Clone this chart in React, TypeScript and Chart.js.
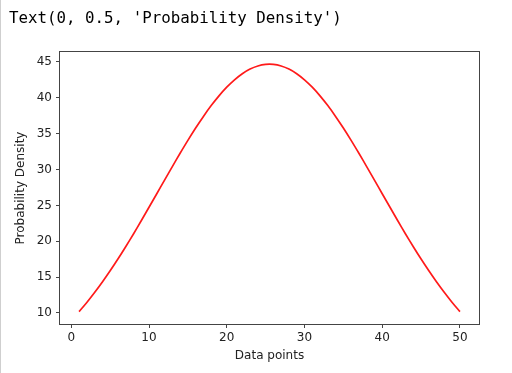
import React, { useEffect, useRef } from "react";
import { Chart, registerables } from "chart.js";

Chart.register(...registerables);

const X_VALUES = [
  1, 2, 3, 4, 5, 6, 7, 8, 9, 10, 11, 12, 13, 14, 15, 16, 17, 18, 19, 20, 21, 22, 23, 24, 25,
  26, 27, 28, 29, 30, 31, 32, 33, 34, 35, 36, 37, 38, 39, 40, 41, 42, 43, 44, 45, 46, 47, 48, 49, 50,
];
const DENSITY = [
  10.19, 11.47, 12.85, 14.32, 15.88, 17.52, 19.24, 21.02, 22.86, 24.74, 26.63, 28.53, 30.42,
  32.27, 34.07, 35.79, 37.41, 38.92, 40.28, 41.49, 42.52, 43.37, 44.02, 44.45, 44.67,
  44.67, 44.45, 44.02, 43.37, 42.52, 41.49, 40.28, 38.92, 37.41, 35.79, 34.07, 32.27, 30.42,
  28.53, 26.63, 24.74, 22.86, 21.02, 19.24, 17.52, 15.88, 14.32, 12.85, 11.47, 10.19,
];
const X_TICKS = [0, 10, 20, 30, 40, 50];
const Y_TICKS = [10, 15, 20, 25, 30, 35, 40, 45];
const HEADER = "Text(0, 0.5, 'Probability Density')";
const X_TITLE = "Data points";
const Y_TITLE = "Probability Density";

const FONT = "'DejaVu Sans', sans-serif";

const frame = {
  id: "frame",
  afterDraw(chart: any) {
    const { ctx, chartArea } = chart;
    ctx.save();
    ctx.strokeStyle = "#444";
    ctx.lineWidth = 1;
    ctx.strokeRect(
      Math.round(chartArea.left) - 0.5,
      Math.round(chartArea.top) - 0.5,
      Math.round(chartArea.right - chartArea.left) + 1,
      Math.round(chartArea.bottom - chartArea.top) + 1
    );
    ctx.restore();
  },
};

export default function App() {
  const ref = useRef<HTMLCanvasElement | null>(null);

  useEffect(() => {
    if (!ref.current) return;
    const xmin = Math.min(...X_VALUES);
    const xmax = Math.max(...X_VALUES);
    const ymin = Math.min(...DENSITY);
    const ymax = Math.max(...DENSITY);
    const xm = (xmax - xmin) * 0.05;
    const ym = (ymax - ymin) * 0.05;
    const chart = new Chart(ref.current, {
      type: "line",
      data: {
        datasets: [
          {
            data: X_VALUES.map((x, i) => ({ x, y: DENSITY[i] })),
            borderColor: "#ff1a1a",
            borderWidth: 1.7,
            pointRadius: 0,
            tension: 0.3,
            fill: false,
          },
        ],
      },
      options: {
        animation: false,
        responsive: false,
        layout: { padding: { top: 52, right: 33, left: 0, bottom: 0 } },
        plugins: { legend: { display: false }, tooltip: { enabled: false } },
        scales: {
          x: {
            type: "linear",
            min: xmin - xm,
            max: xmax + xm,
            afterBuildTicks: (axis: any) => {
              axis.ticks = X_TICKS.map((v) => ({ value: v }));
            },
            afterFit: (axis: any) => {
              axis.height = 49;
            },
            grid: {
              display: true,
              drawOnChartArea: false,
              drawTicks: true,
              tickLength: 4,
              color: "#444",
            },
            border: { display: false },
            ticks: {
              padding: 3,
              color: "#222",
              font: { family: FONT, size: 12 },
              maxRotation: 0,
            },
            title: {
              display: true,
              text: X_TITLE,
              color: "#222",
              font: { family: FONT, size: 12 },
              padding: { top: 0, bottom: 10 },
            },
          },
          y: {
            type: "linear",
            min: ymin - ym,
            max: ymax + ym,
            afterBuildTicks: (axis: any) => {
              axis.ticks = Y_TICKS.map((v) => ({ value: v }));
            },
            afterFit: (axis: any) => {
              axis.width = 60;
            },
            grid: {
              display: true,
              drawOnChartArea: false,
              drawTicks: true,
              tickLength: 4,
              color: "#444",
            },
            border: { display: false },
            ticks: {
              padding: 4,
              color: "#222",
              font: { family: FONT, size: 12 },
            },
            title: {
              display: true,
              text: Y_TITLE,
              color: "#222",
              font: { family: FONT, size: 12 },
              padding: { top: 14, bottom: 0 },
            },
          },
        },
      },
      plugins: [frame],
    } as any);
    return () => chart.destroy();
  }, []);

  return (
    <div
      style={{
        position: "fixed",
        left: 0,
        top: 0,
        width: 512,
        height: 373,
        background: "#fff",
        overflow: "hidden",
      }}
    >
      <canvas ref={ref} width={512} height={373} style={{ position: "absolute", left: 0, top: 0, display: "block" }} />
      <div
        style={{
          position: "absolute",
          left: 9,
          top: 8,
          fontFamily: "'DejaVu Sans Mono', monospace",
          fontSize: 15.8,
          color: "#000",
          whiteSpace: "pre",
        }}
      >
        {HEADER}
      </div>
      <div style={{ position: "absolute", left: 0, top: 0, width: 1, height: 373, background: "#cfcfcf" }} />
    </div>
  );
}
